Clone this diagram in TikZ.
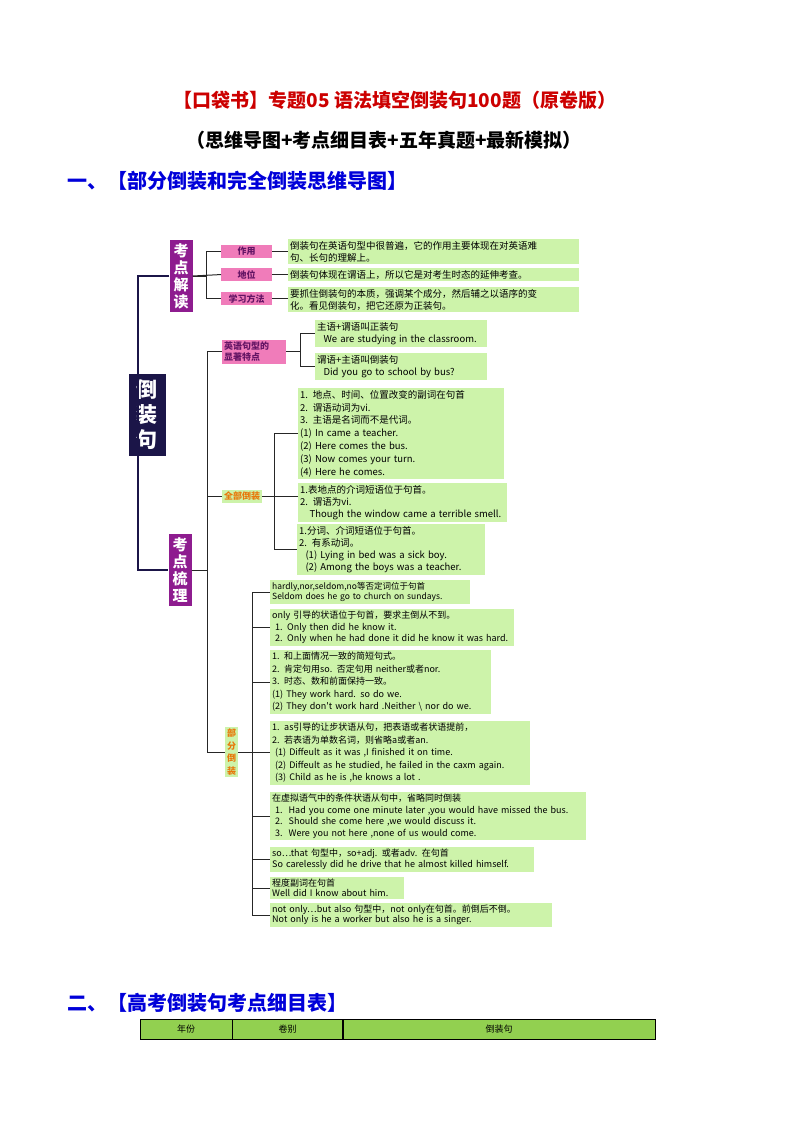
\documentclass[tikz,border=0pt]{standalone}
\usepackage{fontspec}
\setmainfont{Liberation Serif}
\newfontfamily\cjk{Noto Sans CJK SC}
\usetikzlibrary{positioning}
\definecolor{navy}{HTML}{1B1548}
\definecolor{violet}{HTML}{8E1C8F}
\definecolor{pinkbox}{HTML}{F07CBA}
\definecolor{leaf}{HTML}{CDF3AA}
\definecolor{orangetext}{HTML}{E8780A}
\definecolor{headgreen}{HTML}{92D050}
\begin{document}
\begin{tikzpicture}[x=1pt,y=-1pt,
    rootnode/.style={rectangle, fill=navy, text=white, font=\cjk\bfseries\fontsize{21}{25}\selectfont, align=center, minimum width=37pt, minimum height=82pt, inner sep=2pt},
    topicnode/.style={rectangle, fill=violet, text=white, font=\cjk\bfseries\fontsize{15}{17}\selectfont, align=center, minimum width=23pt, minimum height=72pt, inner sep=1pt},
    pinknode/.style={rectangle, fill=pinkbox, text=violet!70!black, font=\cjk\bfseries\fontsize{9}{11}\selectfont, align=left, inner sep=2pt, anchor=north west},
    leafnode/.style={rectangle, fill=leaf, font=\cjk\fontsize{9.5}{12}\selectfont, align=left, inner sep=2pt, anchor=north west},
    branch/.style={draw=black!85, line width=1pt},
    spine/.style={draw=navy, line width=2pt},
  ]
  \useasboundingbox (0,0) rectangle (794,1123);
  %Titles
  \node[font=\cjk\bfseries\fontsize{19}{22}\selectfont, text=red!80!black] (title) at (395,100) {【口袋书】专题05 语法填空倒装句100题（原卷版）};
  \node[font=\cjk\bfseries\fontsize{19}{22}\selectfont] (subtitle) at (384,140) {（思维导图+考点细目表+五年真题+最新模拟）};
  \node[font=\cjk\bfseries\fontsize{20}{23}\selectfont, text=blue!85!black, anchor=west] (head1) at (64,181) {一、【部分倒装和完全倒装思维导图】};
  \node[font=\cjk\bfseries\fontsize{20}{23}\selectfont, text=blue!85!black, anchor=west] (head2) at (64,1003) {二、【高考倒装句考点细目表】};

  %Nodes
  \node[rootnode]  (root)   at (147,415) {倒\\装\\句};
  \node[topicnode] (jiedu)  at (181,276) {考\\点\\解\\读};
  \node[topicnode] (shuli)  at (180,570) {考\\点\\梳\\理};

  \node[pinknode, minimum width=51pt] (zuoyong) at (221,245) {\hfil 作用\hfil};
  \node[pinknode, minimum width=51pt] (diwei)   at (221,268) {\hfil 地位\hfil};
  \node[pinknode, minimum width=51pt] (fangfa)  at (221,292) {学习方法};
  \node[leafnode, text width=287pt] (l_zuoyong) at (288,239) {倒装句在英语句型中很普遍，它的作用主要体现在对英语难\\句、长句的理解上。};
  \node[leafnode, text width=287pt] (l_diwei)   at (288,268) {倒装句体现在谓语上，所以它是对考生时态的延伸考查。};
  \node[leafnode, text width=287pt] (l_fangfa)  at (288,287) {要抓住倒装句的本质，强调某个成分，然后辅之以语序的变\\化。看见倒装句，把它还原为正装句。};

  \node[pinknode, text width=60pt] (tedian) at (222,340) {英语句型的\\显著特点};
  \node[leafnode, text width=168pt] (l_zheng) at (315,320) {主语+谓语叫正装句\\\ \ We are studying in the classroom.};
  \node[leafnode, text width=168pt] (l_dao)   at (315,353) {谓语+主语叫倒装句\\\ \ Did you go to school by bus?};

  \node[pinknode, fill=leaf, text=orangetext] (quanbu) at (222,490) {全部倒装};
  \node[leafnode, text width=202pt, font=\cjk\fontsize{9.5}{12.8}\selectfont] (l_q1) at (298,388) {1. 地点、时间、位置改变的副词在句首\\2. 谓语动词为vi.\\3. 主语是名词而不是代词。\\(1) In came a teacher.\\(2) Here comes the bus.\\(3) Now comes your turn.\\(4) Here he comes.};
  \node[leafnode, text width=205pt] (l_q2) at (298,483) {1.表地点的介词短语位于句首。\\2. 谓语为vi.\\\ \ \ Though the window came a terrible smell.};
  \node[leafnode, text width=184pt] (l_q3) at (297,524) {1.分词、介词短语位于句首。\\2. 有系动词。\\\ \ (1) Lying in bed was a sick boy.\\\ \ (2) Among the boys was a teacher.};

  \node[pinknode, fill=leaf, text=orangetext, align=center, font=\cjk\bfseries\fontsize{9}{12.5}\selectfont] (bufen) at (225,727) {部\\分\\倒\\装};
  \node[leafnode, text width=196pt, font=\cjk\fontsize{8.5}{10.5}\selectfont] (l_b1) at (270,580) {hardly,nor,seldom,no等否定词位于句首\\Seldom does he go to church on sundays.};
  \node[leafnode, text width=240pt, font=\cjk\fontsize{9}{11.5}\selectfont] (l_b2) at (270,609) {only 引导的状语位于句首，要求主倒从不到。\\\ 1. Only then did he know it.\\\ 2. Only when he had done it did he know it was hard.};
  \node[leafnode, text width=217pt, font=\cjk\fontsize{9}{12.5}\selectfont] (l_b3) at (270,650) {1. 和上面情况一致的简短句式。\\2. 肯定句用so. 否定句用 neither或者nor.\\3. 时态、数和前面保持一致。\\(1) They work hard. so do we.\\(2) They don't work hard .Neither \textbackslash\ nor do we.};
  \node[leafnode, text width=256pt, font=\cjk\fontsize{9}{12.5}\selectfont] (l_b4) at (270,721) {1. as引导的让步状语从句，把表语或者状语提前，\\2. 若表语为单数名词，则省略a或者an.\\\ (1) Diffeult as it was ,I finished it on time.\\\ (2) Diffeult as he studied, he failed in the caxm again.\\\ (3) Child as he is ,he knows a lot .};
  \node[leafnode, text width=312pt, font=\cjk\fontsize{9}{11.5}\selectfont] (l_b5) at (270,792) {在虚拟语气中的条件状语从句中，省略同时倒装\\\ 1.\ \ Had you come one minute later ,you would have missed the bus.\\\ 2.\ \ Should she come here ,we would discuss it.\\\ 3.\ \ Were you not here ,none of us would come.};
  \node[leafnode, text width=260pt, font=\cjk\fontsize{9}{11}\selectfont] (l_b6) at (270,847) {so…that 句型中，so+adj. 或者adv. 在句首\\So carelessly did he drive that he almost killed himself.};
  \node[leafnode, text width=130pt, font=\cjk\fontsize{9}{10}\selectfont] (l_b7) at (270,877) {程度副词在句首\\Well did I know about him.};
  \node[leafnode, text width=278pt, font=\cjk\fontsize{9}{10}\selectfont] (l_b8) at (270,903) {not only…but also 句型中，not only在句首。前倒后不倒。\\Not only is he a worker but also he is a singer.};

  %Lines
  \draw[spine] (jiedu.west) -- ++(-31,0) |- (shuli.west);
  \draw[branch] (jiedu.east) -- ++(14,0) |- (zuoyong.west);
  \draw[branch] (jiedu.east) -- ++(14,0) |- (fangfa.west);
  \draw[branch] (jiedu.east) -- (diwei.west);
  \draw[branch] (zuoyong.east) -- (zuoyong.east -| l_zuoyong.west);
  \draw[branch] (diwei.east) -- (diwei.east -| l_diwei.west);
  \draw[branch] (fangfa.east) -- (fangfa.east -| l_fangfa.west);
  \draw[branch] (shuli.east) -- ++(16,0) |- (tedian.west);
  \draw[branch] (shuli.east) -- ++(16,0) |- (quanbu.west);
  \draw[branch] (shuli.east) -- ++(16,0) |- (bufen.west);
  \draw[branch] (tedian.east) -- ++(14,0) |- (l_zheng.west);
  \draw[branch] (tedian.east) -- ++(14,0) |- (l_dao.west);
  \draw[branch] (quanbu.east) -- ++(12,0) |- (l_q1.west);
  \draw[branch] (quanbu.east) -- (quanbu.east -| l_q2.west);
  \draw[branch] (quanbu.east) -- ++(12,0) |- (l_q3.west);
  \foreach \b in {l_b1,l_b2,l_b3,l_b4,l_b5,l_b6,l_b7,l_b8}
    \draw[branch] (bufen.east) -- ++(14,0) |- (\b.west);

  %Table
  \node[draw, fill=headgreen, minimum width=92pt, minimum height=20pt, font=\cjk\fontsize{9}{10}\selectfont, anchor=north west] (nian) at (140,1019) {年份};
  \node[draw, fill=headgreen, minimum width=110pt, minimum height=20pt, font=\cjk\fontsize{9}{10}\selectfont, right=0pt of nian] (juan) {卷别};
  \node[draw, fill=headgreen, minimum width=312pt, minimum height=20pt, font=\cjk\fontsize{9}{10}\selectfont, right=0pt of juan] (daozhuang) {倒装句};
\end{tikzpicture}
\end{document}
